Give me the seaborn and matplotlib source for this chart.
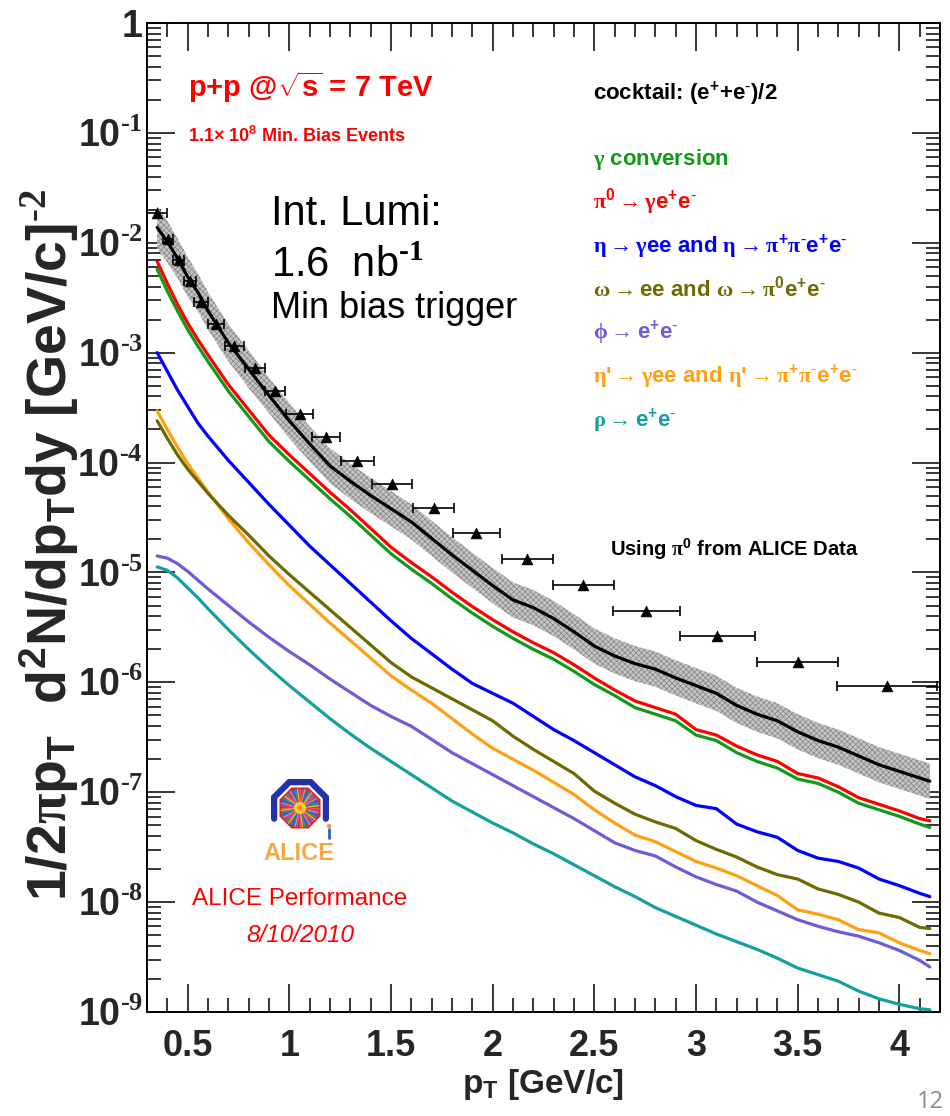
import numpy as np
import pandas as pd
import matplotlib
matplotlib.use("Agg")
import matplotlib.pyplot as plt
from matplotlib.ticker import FixedLocator, LogLocator, FuncFormatter, NullFormatter
from matplotlib.patches import Polygon, Circle
import seaborn as sns

# ---------------------------------------------------------------- data
pt_grid = [0.35, 0.40, 0.45, 0.50, 0.55, 0.60, 0.70, 0.80, 0.90, 1.00,
           1.10, 1.20, 1.30, 1.40, 1.50, 1.60, 1.70, 1.80, 1.90, 2.00,
           2.10, 2.20, 2.30, 2.40, 2.50, 2.60, 2.70, 2.80, 2.90, 3.00,
           3.10, 3.20, 3.30, 3.40, 3.50, 3.60, 3.70, 3.80, 3.90, 4.00,
           4.10, 4.15]

# log10 of the invariant yield for each cocktail source
cocktail_log10 = [-1.86, -1.99, -2.14, -2.31, -2.45, -2.62, -2.91, -3.15, -3.39, -3.62,
                  -3.83, -4.03, -4.17, -4.30, -4.42, -4.54, -4.69, -4.84, -4.98, -5.12,
                  -5.25, -5.32, -5.42, -5.54, -5.67, -5.76, -5.83, -5.88, -5.96, -6.03,
                  -6.10, -6.21, -6.29, -6.35, -6.45, -6.53, -6.59, -6.67, -6.75, -6.81,
                  -6.87, -6.90]
gamma_conv_log10 = [-2.24, -2.44, -2.62, -2.79, -2.94, -3.08, -3.35, -3.58, -3.81, -3.99,
                    -4.16, -4.33, -4.49, -4.66, -4.83, -4.97, -5.10, -5.24, -5.37, -5.49,
                    -5.60, -5.70, -5.79, -5.90, -6.02, -6.12, -6.23, -6.29, -6.35, -6.48,
                    -6.53, -6.64, -6.72, -6.78, -6.88, -6.92, -7.00, -7.10, -7.16, -7.22,
                    -7.29, -7.32]
pi0_log10 = [-2.17, -2.37, -2.56, -2.73, -2.88, -3.02, -3.29, -3.52, -3.75, -3.93,
             -4.10, -4.27, -4.43, -4.60, -4.77, -4.91, -5.04, -5.18, -5.31, -5.43,
             -5.54, -5.64, -5.73, -5.84, -5.96, -6.07, -6.17, -6.23, -6.29, -6.43,
             -6.48, -6.58, -6.66, -6.72, -6.83, -6.87, -6.95, -7.05, -7.11, -7.17,
             -7.24, -7.26]
eta_log10 = [-3.00, -3.17, -3.34, -3.49, -3.64, -3.76, -3.98, -4.18, -4.38, -4.57,
             -4.76, -4.93, -5.10, -5.27, -5.44, -5.60, -5.74, -5.88, -6.01, -6.10,
             -6.19, -6.31, -6.43, -6.53, -6.64, -6.75, -6.86, -6.94, -7.04, -7.12,
             -7.15, -7.29, -7.36, -7.41, -7.53, -7.60, -7.63, -7.69, -7.79, -7.85,
             -7.92, -7.95]
omega_log10 = [-3.62, -3.78, -3.93, -4.06, -4.17, -4.28, -4.48, -4.66, -4.85, -5.02,
               -5.18, -5.34, -5.50, -5.66, -5.82, -5.95, -6.05, -6.15, -6.25, -6.35,
               -6.49, -6.61, -6.72, -6.83, -6.99, -7.10, -7.20, -7.27, -7.33, -7.44,
               -7.52, -7.59, -7.68, -7.75, -7.79, -7.88, -7.93, -8.00, -8.10, -8.14,
               -8.23, -8.24]
phi_log10 = [-4.85, -4.87, -4.92, -4.99, -5.07, -5.15, -5.30, -5.45, -5.59, -5.72,
             -5.84, -5.97, -6.09, -6.21, -6.31, -6.40, -6.52, -6.64, -6.74, -6.84,
             -6.94, -7.04, -7.14, -7.24, -7.35, -7.46, -7.53, -7.58, -7.68, -7.77,
             -7.84, -7.90, -8.00, -8.08, -8.16, -8.22, -8.27, -8.31, -8.37, -8.44,
             -8.53, -8.59]
etaprime_log10 = [-3.53, -3.70, -3.86, -4.01, -4.14, -4.27, -4.51, -4.73, -4.93, -5.12,
                  -5.29, -5.46, -5.62, -5.78, -5.94, -6.07, -6.19, -6.33, -6.47, -6.60,
                  -6.70, -6.80, -6.91, -7.02, -7.16, -7.28, -7.39, -7.45, -7.54, -7.63,
                  -7.69, -7.76, -7.85, -7.94, -8.07, -8.11, -8.16, -8.25, -8.28, -8.37,
                  -8.44, -8.47]
rho_log10 = [-4.95, -4.98, -5.05, -5.14, -5.23, -5.33, -5.52, -5.70, -5.87, -6.03,
             -6.18, -6.33, -6.47, -6.60, -6.72, -6.84, -6.96, -7.08, -7.18, -7.28,
             -7.37, -7.47, -7.56, -7.66, -7.76, -7.86, -7.95, -8.05, -8.13, -8.21,
             -8.29, -8.36, -8.43, -8.51, -8.60, -8.66, -8.72, -8.81, -8.88, -8.93,
             -8.97, -8.98]

# systematic band around the cocktail, half-width in decades
band_halfwidth_dex = [0.19, 0.19, 0.18, 0.18, 0.17, 0.17, 0.17, 0.17, 0.16, 0.16,
                      0.16, 0.16, 0.16, 0.16, 0.16, 0.16, 0.16, 0.16, 0.16, 0.16,
                      0.16, 0.16, 0.16, 0.16, 0.16, 0.16, 0.16, 0.16, 0.16, 0.16,
                      0.16, 0.16, 0.16, 0.16, 0.16, 0.16, 0.16, 0.16, 0.16, 0.16,
                      0.16, 0.16]

# measured electrons
pt_data = [0.35, 0.405, 0.455, 0.51, 0.565, 0.64, 0.73, 0.83, 0.93, 1.05,
           1.18, 1.335, 1.505, 1.71, 1.92, 2.17, 2.445, 2.755, 3.105, 3.5, 3.94]
yield_data = [1.86e-2, 1.08e-2, 6.97e-3, 4.52e-3, 2.91e-3, 1.82e-3, 1.14e-3, 7.21e-4,
              4.48e-4, 2.75e-4, 1.72e-4, 1.04e-4, 6.40e-5, 3.86e-5, 2.29e-5, 1.33e-5,
              7.69e-6, 4.47e-6, 2.64e-6, 1.53e-6, 9.27e-7]
pt_halfwidth = [0.05, 0.025, 0.025, 0.03, 0.035, 0.04, 0.045, 0.05, 0.05, 0.065,
                0.07, 0.08, 0.10, 0.10, 0.115, 0.125, 0.15, 0.165, 0.185, 0.20, 0.245]

x_ticks = [0.5, 1.0, 1.5, 2.0, 2.5, 3.0, 3.5, 4.0]
y_exponents = [0, -1, -2, -3, -4, -5, -6, -7, -8, -9]

components = ["cocktail", "gamma", "pi0", "eta", "omega", "phi", "etaprime", "rho"]
component_log10 = [cocktail_log10, gamma_conv_log10, pi0_log10, eta_log10,
                   omega_log10, phi_log10, etaprime_log10, rho_log10]
palette = {"cocktail": "#000000", "gamma": "#109a18", "pi0": "#ff0000",
           "eta": "#0000ff", "omega": "#6e6a00", "phi": "#6a5ed8",
           "etaprime": "#ffa010", "rho": "#14a0a0"}

EP = r"e$^{+}$"
EM = r"e$^{\text{-}}$"
ARR = r"\mathrm{\rightarrow}"
legend_labels = [
    (r"$\mathrm{\gamma}$ conversion", "gamma"),
    (r"$\mathrm{\pi}^{0}" + ARR + r"\mathrm{\gamma}$" + EP + EM, "pi0"),
    (r"$\mathrm{\eta}" + ARR + r"\mathrm{\gamma}$ee and $\mathrm{\eta}" + ARR
     + r"\mathrm{\pi}^{+}\mathrm{\pi}^{\text{-}}$" + EP + EM, "eta"),
    (r"$\mathrm{\omega}" + ARR + r"$ee and $\mathrm{\omega}" + ARR
     + r"\mathrm{\pi}^{0}$" + EP + EM, "omega"),
    (r"$\mathrm{\phi}" + ARR + "$" + EP + EM, "phi"),
    (r"$\mathrm{\eta}$'$" + ARR + r"\mathrm{\gamma}$ee and $\mathrm{\eta}$'$" + ARR
     + r"\mathrm{\pi}^{+}\mathrm{\pi}^{\text{-}}$" + EP + EM, "etaprime"),
    (r"$\mathrm{\rho}" + ARR + "$" + EP + EM, "rho"),
]

rows = []
for name, vals in zip(components, component_log10):
    for p, v in zip(pt_grid, vals):
        rows.append({"pt": p, "yield": 10.0 ** v, "component": name})
df = pd.DataFrame(rows)

# ---------------------------------------------------------------- style
sns.set_theme(style="ticks")
plt.rcParams.update({
    "font.family": ["Liberation Sans", "DejaVu Sans"],
    "font.weight": "bold",
    "mathtext.fontset": "custom",
    "mathtext.rm": "Liberation Serif",
    "mathtext.it": "Liberation Sans:italic",
    "mathtext.bf": "Liberation Sans:bold",
    "mathtext.sf": "Liberation Sans",
    "mathtext.default": "regular",
    "hatch.linewidth": 0.5,
    "hatch.color": "#858585",
    "axes.linewidth": 1.4,
    "axes.edgecolor": "black",
})

W, H = 950, 1116
fig = plt.figure(figsize=(W / 100, H / 100), dpi=100)
fig.patch.set_facecolor("white")
ax = fig.add_axes([147 / W, 1 - 1012 / H, (940 - 147) / W, (1012 - 23) / H])
ax.set_facecolor("white")

# systematic band
pt_arr = np.array(pt_grid)
c_log = np.array(cocktail_log10)
hw = np.array(band_halfwidth_dex)
ax.fill_between(pt_arr, 10 ** (c_log - hw), 10 ** (c_log + hw),
                facecolor="#c4c4c4", edgecolor="#858585", hatch="xxxxxx",
                linewidth=0, zorder=1)

draw_order = ["rho", "phi", "etaprime", "omega", "eta", "gamma", "pi0", "cocktail"]
sns.lineplot(data=df, x="pt", y="yield", hue="component", hue_order=draw_order,
             palette=palette, estimator=None, sort=False, linewidth=2.3,
             legend=False, ax=ax, zorder=3)

# data points
ax.errorbar(pt_data, yield_data, xerr=pt_halfwidth, fmt="none", ecolor="black",
            elinewidth=1.2, capsize=3.5, capthick=1.2, zorder=4)
sns.scatterplot(x=pt_data, y=yield_data, marker="^", s=60, color="black",
                edgecolor="black", linewidth=0.5, ax=ax, zorder=5, legend=False)

ax.set_yscale("log")
ax.set_xlim(0.3, 4.2)
ax.set_ylim(1e-9, 1)

ax.xaxis.set_major_locator(FixedLocator(x_ticks))
ax.xaxis.set_minor_locator(FixedLocator([t / 10 for t in range(4, 43)]))
ax.xaxis.set_major_formatter(FuncFormatter(lambda v, _: f"{v:g}"))
ax.yaxis.set_major_locator(FixedLocator([10.0 ** e for e in y_exponents]))
ax.yaxis.set_minor_locator(LogLocator(base=10, subs=np.arange(2, 10), numticks=15))
ax.yaxis.set_minor_formatter(NullFormatter())


def exp_label(v, _):
    e = int(round(np.log10(v)))
    return "1" if e == 0 else rf"$10^{{\text{{{e}}}}}$"


ax.yaxis.set_major_formatter(FuncFormatter(exp_label))
ax.tick_params(which="both", direction="in", top=True, right=True,
               color="black", width=1.1)
ax.tick_params(which="major", length=20)
ax.tick_params(which="minor", length=10)
ax.tick_params(axis="x", which="major", labelsize=26, pad=12)
ax.tick_params(axis="y", which="major", labelsize=27, pad=3)
for s in ax.spines.values():
    s.set_visible(True)
    s.set_color("black")

ax.set_xlabel(r"p$_{T}$ [GeV/c]", fontsize=24, fontweight="bold")
ax.xaxis.set_label_coords(0.5, -0.056)
ax.set_ylabel(r"1/2$\mathrm{\pi}$p$_{T}$  d$^{2}$N/dp$_{T}$dy [GeV/c]$^{\text{-2}}$",
              fontsize=40, fontweight="bold")
ax.yaxis.set_label_coords(-0.083, 0.472)


def ftext(x, y, s, **kw):
    fig.text(x / W, 1 - y / H, s, **kw)


# collision system
ftext(188, 97, r"p+p @$\sqrt{s}$ = 7 TeV", color="#ff0000", fontsize=21,
      fontweight="bold", va="baseline")
ftext(188, 142, r"1.1$\times$ 10$^{8}$ Min. Bias Events", color="#ff0000",
      fontsize=13, fontweight="bold", va="baseline")

# luminosity annotation
ftext(271, 225, "Int. Lumi:", color="black", fontsize=30, fontweight="normal",
      va="baseline")
ftext(271, 277, r"1.6  nb$^{\text{-1}}$", color="black", fontsize=30,
      fontweight="normal", va="baseline")
ftext(271, 318, "Min bias trigger", color="black", fontsize=26, fontweight="normal",
      va="baseline")

# legend block
ftext(593, 100, "cocktail: (" + EP + "+" + EM + ")/2", color="black", fontsize=16,
      fontweight="bold", va="baseline")
legend_baselines = [165, 208.5, 253, 297, 339, 383, 427]
for (label, key), yb in zip(legend_labels, legend_baselines):
    ftext(593, yb, label, color=palette[key], fontsize=16, fontweight="bold",
          va="baseline")

ftext(610, 556, r"Using $\mathrm{\pi}^{0}$ from ALICE Data", color="black",
      fontsize=14.5, fontweight="bold", va="baseline")

# performance label
ftext(300, 905, "ALICE Performance", color="#ff0000", fontsize=17.5,
      fontweight="normal", ha="center", va="baseline")
ftext(300, 942, "8/10/2010", color="#ff0000", fontsize=17.5, fontweight="normal",
      style="italic", ha="center", va="baseline")

# slide number
ftext(930, 1108, "12", color="#8c8c8c", fontsize=17, fontweight="normal",
      family="Open Sans", ha="center", va="baseline")

# ALICE logo
lx0, ly0, lx1, ly1 = 262, 770, 340, 866
lax = fig.add_axes([lx0 / W, 1 - ly1 / H, (lx1 - lx0) / W, (ly1 - ly0) / H])
lax.set_xlim(lx0, lx1)
lax.set_ylim(ly1, ly0)
lax.set_aspect("equal")
lax.axis("off")
cx, cy = 300, 808
ang = np.deg2rad(np.array([-22.5, 22.5, 67.5, 112.5, 157.5, 202.5]))
r_out = 28
lax.plot(cx + r_out * np.cos(ang), cy - r_out * np.sin(ang), color="#2432a8",
         lw=4.5, solid_joinstyle="miter")
oct_ang = np.deg2rad(22.5 + 45 * np.arange(8))
r_in = 21
octo = np.column_stack([cx + r_in * np.cos(oct_ang), cy - r_in * np.sin(oct_ang)])
lax.add_patch(Polygon(octo, closed=True, facecolor="#5060c0", edgecolor="#e0202a",
                      lw=1.6, zorder=2))
spoke_colors = ["#ff5030", "#f0c020", "#30a040", "#4050ff", "#ff9020", "#c040c0"]
for k, a in enumerate(np.linspace(0, 2 * np.pi, 48, endpoint=False)):
    lax.plot([cx, cx + 19 * np.cos(a)], [cy, cy - 19 * np.sin(a)],
             color=spoke_colors[k % len(spoke_colors)], lw=0.9, zorder=3)
lax.add_patch(Circle((cx, cy), 6, facecolor="#ffc830", edgecolor="none", zorder=4))
lax.add_patch(Circle((cx, cy), 2.5, facecolor="#ff8a20", edgecolor="none", zorder=5))
lax.add_patch(Circle((329, 826), 2.2, facecolor="#f0a030", edgecolor="none", zorder=5))
lax.plot([329, 329], [829, 838], color="#3060c0", lw=2.0, zorder=5)
lax.text(299, 860, "ALICE", color="#f7a840", fontsize=17, fontweight="bold",
         ha="center", va="baseline")

fig.savefig("out.png", dpi=100, facecolor="white")
